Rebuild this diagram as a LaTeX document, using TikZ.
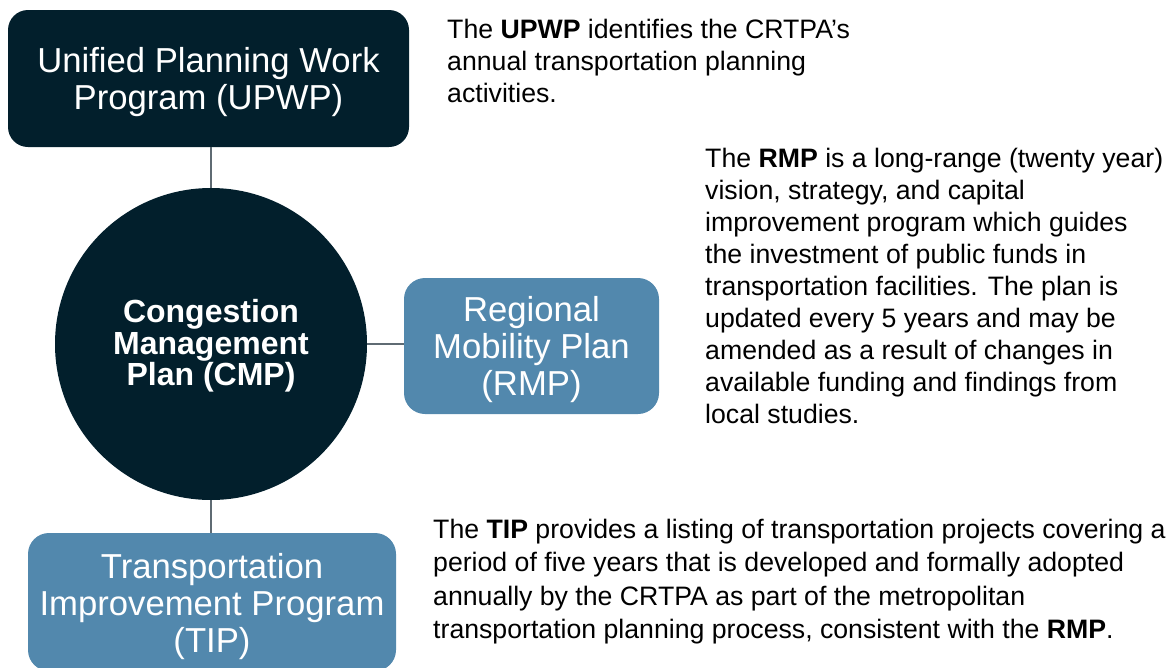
\documentclass[tikz,border=0pt]{standalone}
\usepackage{fontspec}
\setmainfont{Liberation Sans}
\definecolor{navy}{HTML}{021F2C}
\definecolor{steel}{HTML}{5288AD}
\definecolor{linkgray}{HTML}{5F6B73}
\begin{document}
\begin{tikzpicture}[x=1pt,y=-1pt,
  boxtext/.style={text=white, inner sep=0pt, align=center, font=\fontsize{34.67}{37}\selectfont},
  darkbox/.style={fill=navy, rounded corners=20pt, inner sep=0pt},
  lightbox/.style={fill=steel, rounded corners=21pt, inner sep=0pt},
  hub/.style={circle, fill=navy, inner sep=0pt},
  hubtext/.style={text=white, inner sep=0pt, align=center, font=\bfseries\fontsize{32}{31.5}\selectfont},
  desc/.style={anchor=base west, align=left, inner sep=0pt, font=\fontsize{26.67}{32}\selectfont},
  link/.style={draw=linkgray, line width=2pt}]
\useasboundingbox (0,0) rectangle (1169,667);
\node[darkbox, minimum width=401pt, minimum height=137pt] (upwp) at (208.5,78.5) {};
\node[boxtext, yshift=-4pt] (upwptext) at (upwp.center) {Unified Planning Work\\Program (UPWP)};
\node[hub, minimum size=312pt] (cmp) at (211,344) {};
\node[hubtext, yshift=-2pt] (cmptext) at (cmp.center) {Congestion\\Management\\Plan (CMP)};
\node[lightbox, minimum width=255pt, minimum height=136pt] (rmp) at (531.5,346) {};
\node[boxtext, yshift=-4pt] (rmptext) at (rmp.center) {Regional\\Mobility Plan\\(RMP)};
\node[lightbox, minimum width=368pt, minimum height=138pt] (tip) at (212,602) {};
\node[boxtext, yshift=-5pt] (tiptext) at (tip.center) {Transportation\\Improvement Program\\(TIP)};
\node[desc] (upwpnote) at (447,102) {The \textbf{UPWP} identifies the CRTPA’s\\annual transportation planning\\activities.};
\node[desc] (rmpnote) at (705,423) {The \textbf{RMP} is a long-range (twenty year)\\vision, strategy, and capital\\improvement program which guides\\the investment of public funds in\\transportation facilities. The plan is\\updated every 5 years and may be\\amended as a result of changes in\\available funding and findings from\\local studies.};
\node[desc, font=\fontsize{26.67}{33.5}\selectfont] (tipnote) at (433,638.5) {The \textbf{TIP} provides a listing of transportation projects covering a\\period of five years that is developed and formally adopted\\annually by the CRTPA as part of the metropolitan\\transportation planning process, consistent with the \textbf{RMP}.};
\draw[link] (cmp.north |- upwp.south) -- (cmp.north);
\draw[link] (cmp.east) -- (cmp.east -| rmp.west);
\draw[link] (cmp.south) -- (cmp.south |- tip.north);
\end{tikzpicture}
\end{document}
